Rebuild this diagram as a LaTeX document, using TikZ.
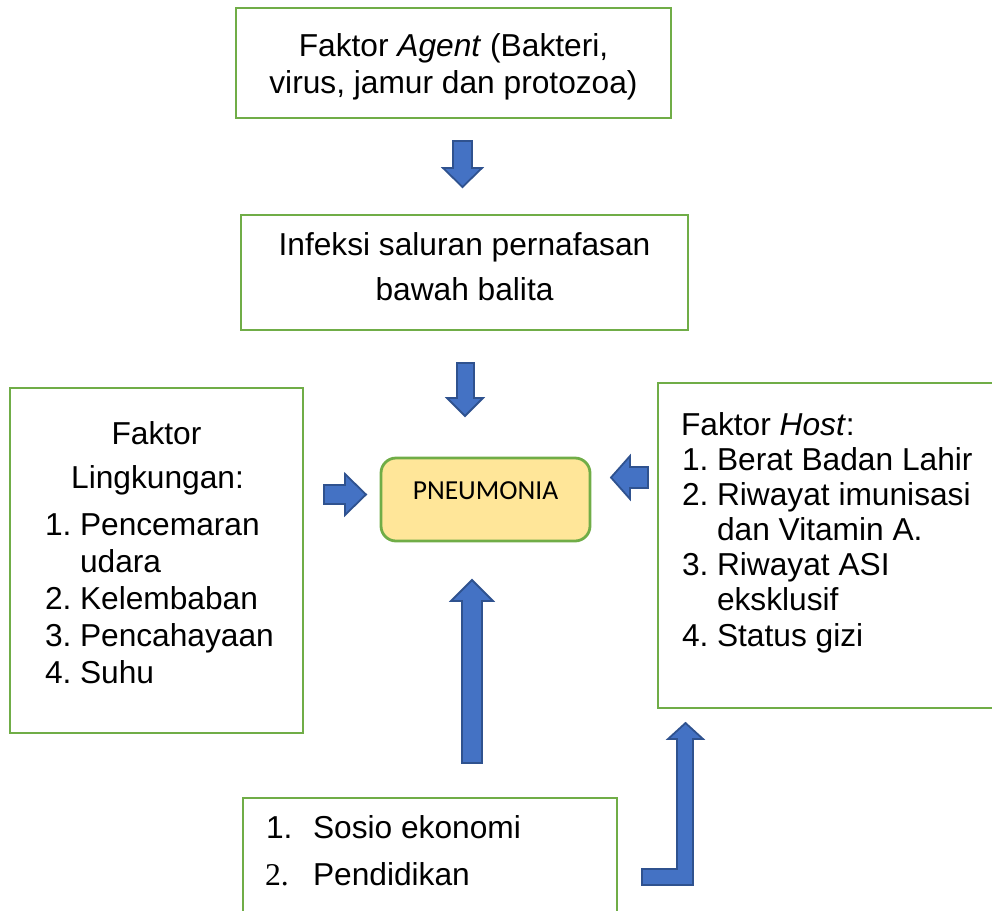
\documentclass[tikz,border=0pt]{standalone}
\usepackage{fontspec}
\setmainfont{Liberation Sans}
\newfontfamily\calibrifont{Carlito}
\newfontfamily\timesfont{Liberation Serif}
\definecolor{boxgreen}{HTML}{70AD47}
\definecolor{arrowblue}{HTML}{4472C4}
\definecolor{arrowedge}{HTML}{2F528F}
\definecolor{pnfill}{HTML}{FFE699}
\begin{document}
\begin{tikzpicture}[x=1pt,y=-1pt,
  gbox/.style={draw=boxgreen,line width=2.8pt,inner sep=0pt,outer sep=0pt,anchor=north west},
  pnbox/.style={draw=boxgreen,fill=pnfill,line width=2.8pt,rounded corners=15pt,inner sep=0pt,outer sep=0pt,anchor=north west},
  barrow/.style={draw=arrowedge,fill=arrowblue,line width=1.8pt,line join=miter},
  txt/.style={inner sep=0pt,outer sep=0pt,font=\fontsize{31.7}{38}\selectfont}]
\useasboundingbox (0,0) rectangle (992,910);
\clip (0,0) rectangle (992,910);
% boxes
\node[gbox,minimum width=435pt,minimum height=110pt] (agent) at (236,8) {};
\node[gbox,minimum width=447pt,minimum height=115pt] (isp) at (241,215) {};
\node[gbox,minimum width=293pt,minimum height=345pt] (ling) at (10,388) {};
\node[gbox,minimum width=360pt,minimum height=325pt] (host) at (658,383) {};
\node[gbox,minimum width=374pt,minimum height=140pt] (sosio) at (243,798) {};
\node[pnbox,minimum width=209pt,minimum height=83pt] (pn) at (381,458) {};
% texts
\node[txt,anchor=base] (t1) at (453.5,56) {Faktor \textit{Agent} (Bakteri,};
\node[txt,anchor=base] (t2) at (453.5,93) {virus, jamur dan protozoa)};
\node[txt,anchor=base] (t3) at (464.5,255) {Infeksi saluran pernafasan};
\node[txt,anchor=base] (t4) at (464.5,300) {bawah balita};
\node[inner sep=0pt,anchor=base,font=\calibrifont\fontsize{27.5}{33}\selectfont] (tpn) at (485.5,499) {PNEUMONIA};
% left box
\node[txt,anchor=base] (l1) at (156.5,444) {Faktor};
\node[txt,anchor=base] (l2) at (157.5,488) {Lingkungan:};
\node[txt,anchor=base west] (ln1) at (45,535) {1.};
\node[txt,anchor=base west] (lt1) at (80,535) {Pencemaran};
\node[txt,anchor=base west] (lt1b) at (80,572) {udara};
\node[txt,anchor=base west] (ln2) at (45,609) {2.};
\node[txt,anchor=base west] (lt2) at (80,609) {Kelembaban};
\node[txt,anchor=base west] (ln3) at (45,646) {3.};
\node[txt,anchor=base west] (lt3) at (80,646) {Pencahayaan};
\node[txt,anchor=base west] (ln4) at (45,683) {4.};
\node[txt,anchor=base west] (lt4) at (80,683) {Suhu};
% right box
\node[txt,anchor=base west] (h0) at (681,435) {Faktor \textit{Host}:};
\node[txt,anchor=base west] (hn1) at (682,470) {1.};
\node[txt,anchor=base west] (ht1) at (717,470) {Berat Badan Lahir};
\node[txt,anchor=base west] (hn2) at (682,505) {2.};
\node[txt,anchor=base west] (ht2) at (717,505) {Riwayat imunisasi};
\node[txt,anchor=base west] (ht2b) at (717,540) {dan Vitamin A.};
\node[txt,anchor=base west] (hn3) at (682,575) {3.};
\node[txt,anchor=base west] (ht3) at (717,575) {Riwayat ASI};
\node[txt,anchor=base west] (ht3b) at (717,610) {eksklusif};
\node[txt,anchor=base west] (hn4) at (682,646) {4.};
\node[txt,anchor=base west] (ht4) at (717,646) {Status gizi};
% bottom box
\node[txt,anchor=base west] (sn1) at (266,838) {1.};
\node[txt,anchor=base west] (st1) at (313,838) {Sosio ekonomi};
\node[txt,anchor=base west,font=\timesfont\fontsize{31.7}{38}\selectfont] (sn2) at (265,885) {2.};
\node[txt,anchor=base west] (st2) at (313,885) {Pendidikan};
% block arrows
\draw[barrow] (453,141) -- (472,141) -- (472,168) -- (482,168) -- (462.5,187) -- (443,168) -- (453,168) -- cycle;
\draw[barrow] (457,363) -- (474,363) -- (474,398) -- (483,398) -- (465,416) -- (447,398) -- (457,398) -- cycle;
\draw[barrow] (324,485) -- (345,485) -- (345,474) -- (366,494.5) -- (345,515) -- (345,504) -- (324,504) -- cycle;
\draw[barrow] (648,467) -- (630,467) -- (630,456) -- (611,477.5) -- (630,499) -- (630,488) -- (648,488) -- cycle;
\draw[barrow] (462,763) -- (462,601) -- (451,601) -- (472,580) -- (493,601) -- (482,601) -- (482,763) -- cycle;
\draw[barrow] (642,869) -- (677,869) -- (677,739) -- (668,739) -- (685.5,723) -- (703,739) -- (693,739) -- (693,885) -- (642,885) -- cycle;
\end{tikzpicture}
\end{document}
